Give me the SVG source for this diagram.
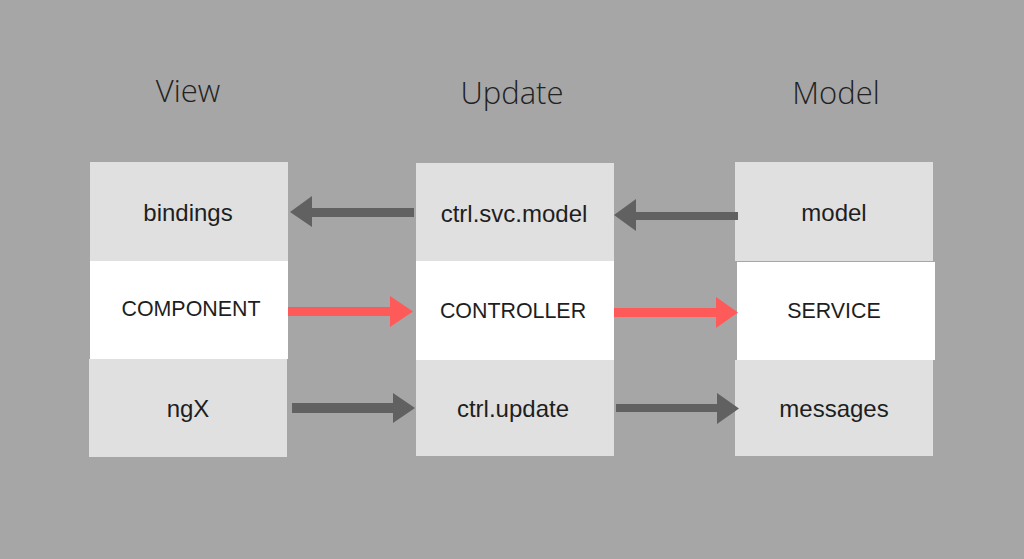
<svg xmlns="http://www.w3.org/2000/svg" width="1024" height="559" viewBox="0 0 1024 559">
<defs>
<style>
.bg{fill:#a6a6a6}
.g{fill:#e0e0e0}
.w{fill:#ffffff}
.h{font-family:"Open Sans","Liberation Sans",sans-serif;font-weight:300;font-size:31px;fill:#222;text-anchor:middle}
.lc{font-family:"Liberation Sans",Arial,sans-serif;font-size:24px;fill:#1e1e1e;text-anchor:middle}
.uc{font-family:"Liberation Sans",Arial,sans-serif;font-size:21.4px;fill:#1e1e1e;text-anchor:middle}
.dk{fill:#616161}
.rd{fill:#ff5a5a}
</style>
</defs>
<rect class="bg" x="0" y="0" width="1024" height="559"/>
<g id="headers">
<text class="h" x="188" y="102">View</text>
<text class="h" x="512" y="104">Update</text>
<text class="h" x="836" y="104">Model</text>
</g>
<g id="bindings"><rect class="g" x="90" y="162" width="198" height="99"/><text class="lc" x="188" y="221">bindings</text></g>
<g id="component"><rect class="w" x="90" y="261" width="198" height="98"/><text class="uc" x="191" y="316">COMPONENT</text></g>
<g id="ngx"><rect class="g" x="89" y="359" width="198" height="98"/><text class="lc" x="188" y="417">ngX</text></g>
<g id="ctrl-svc-model"><rect class="g" x="416" y="163" width="198" height="98"/><text class="lc" x="514" y="222">ctrl.svc.model</text></g>
<g id="controller"><rect class="w" x="416" y="261" width="198" height="99"/><text class="uc" x="513" y="318">CONTROLLER</text></g>
<g id="ctrl-update"><rect class="g" x="416" y="360" width="198" height="96"/><text class="lc" x="513" y="417">ctrl.update</text></g>
<g id="model"><rect class="g" x="735" y="162" width="198" height="99"/><text class="lc" x="834" y="221">model</text></g>
<g id="service"><rect class="w" x="737" y="262" width="198" height="98"/><text class="uc" x="834" y="318">SERVICE</text></g>
<g id="messages"><rect class="g" x="735" y="360" width="198" height="96"/><text class="lc" x="834" y="417">messages</text></g>
<g id="connectors">
<polygon class="dk" points="414,208 312,208 312,196 290,212 312,227 312,217 414,217"/>
<polygon class="rd" points="288,307 390,307 390,296 413,311.5 390,327 390,316 288,316"/>
<polygon class="dk" points="292,403 393,403 393,393 415,408 393,423 393,413 292,413"/>
<polygon class="dk" points="738,212 636,212 636,199 614,215 636,231 636,220 738,220"/>
<polygon class="rd" points="614,308 716,308 716,297 738,312.5 716,328 716,317 614,317"/>
<polygon class="dk" points="616,404 717,404 717,393 739,408.5 717,424 717,412 616,412"/>
</g>
</svg>
